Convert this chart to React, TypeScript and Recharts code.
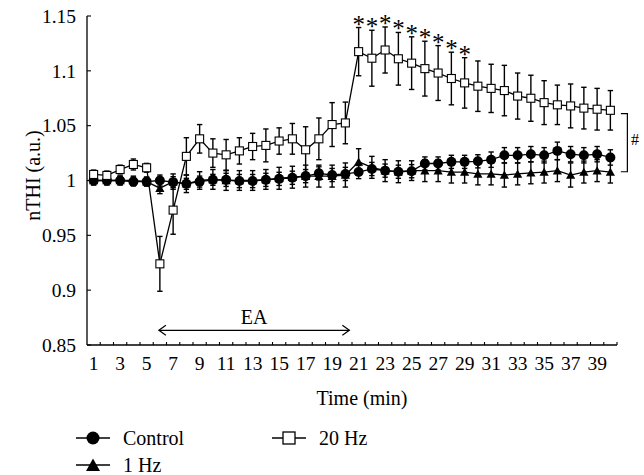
import React from "react";
import {
  ComposedChart,
  Line,
  XAxis,
  YAxis,
  ErrorBar,
  ReferenceLine,
  Legend,
} from "recharts";

const FONT = '"Liberation Serif", "Times New Roman", serif';

const minutes = [
  "1", "2", "3", "4", "5", "6", "7", "8", "9", "10",
  "11", "12", "13", "14", "15", "16", "17", "18", "19", "20",
  "21", "22", "23", "24", "25", "26", "27", "28", "29", "30",
  "31", "32", "33", "34", "35", "36", "37", "38", "39", "40",
];

const control = [
  1.0, 1.0, 1.0, 0.999, 0.999, 1.0, 0.9985, 0.997, 0.999, 1.0006,
  1.0006, 0.9995, 0.9995, 1.0006, 1.0015, 1.0025, 1.004, 1.0065, 1.005, 1.006,
  1.0077, 1.0105, 1.009, 1.008, 1.0085, 1.0155, 1.0155, 1.017, 1.017, 1.0175,
  1.019, 1.023, 1.023, 1.024, 1.023, 1.027, 1.024, 1.023, 1.024, 1.021,
];
const controlErr = [
  0.004, 0.004, 0.004, 0.004, 0.004, 0.005, 0.005, 0.005, 0.005, 0.005,
  0.006, 0.006, 0.006, 0.006, 0.006, 0.006, 0.006, 0.006, 0.006, 0.006,
  0.006, 0.006, 0.006, 0.006, 0.006, 0.006, 0.006, 0.006, 0.006, 0.006,
  0.007, 0.007, 0.007, 0.007, 0.007, 0.008, 0.007, 0.007, 0.007, 0.007,
];

const hz1 = [
  1.0, 1.0, 1.0, 1.0, 0.999, 0.993, 0.999, 0.997, 1.0, 1.001,
  1.0, 1.0, 1.0, 1.001, 1.002, 1.003, 1.004, 1.004, 1.004, 1.005,
  1.017, 1.012, 1.009, 1.008, 1.009, 1.009, 1.009, 1.0077, 1.0077, 1.006,
  1.006, 1.005, 1.006, 1.007, 1.0077, 1.009, 1.005, 1.0077, 1.009, 1.0077,
];
const hz1Err = [
  0.004, 0.004, 0.004, 0.004, 0.004, 0.005, 0.007, 0.008, 0.008, 0.009,
  0.009, 0.009, 0.009, 0.009, 0.01, 0.01, 0.01, 0.01, 0.01, 0.011,
  0.012, 0.01, 0.01, 0.01, 0.009, 0.01, 0.01, 0.01, 0.01, 0.01,
  0.01, 0.011, 0.01, 0.01, 0.01, 0.01, 0.011, 0.01, 0.01, 0.01,
];

const hz20 = [
  1.0055, 1.0046, 1.01, 1.0146, 1.0116, 0.924, 0.973, 1.022, 1.038, 1.025,
  1.0234, 1.027, 1.031, 1.032, 1.036, 1.038, 1.028, 1.038, 1.051, 1.0525,
  1.1175, 1.1115, 1.119, 1.111, 1.107, 1.102, 1.098, 1.093, 1.089, 1.086,
  1.084, 1.082, 1.077, 1.075, 1.071, 1.069, 1.068, 1.066, 1.065, 1.064,
];
const hz20Err = [
  0.004, 0.004, 0.004, 0.005, 0.004, 0.025, 0.022, 0.017, 0.013, 0.013,
  0.014, 0.012, 0.012, 0.015, 0.012, 0.014, 0.021, 0.019, 0.02, 0.019,
  0.022, 0.0255, 0.021, 0.024, 0.024, 0.025, 0.025, 0.024, 0.023, 0.023,
  0.022, 0.023, 0.021, 0.021, 0.02, 0.018, 0.02, 0.019, 0.019, 0.018,
];

// minutes where 20 Hz differs from control (*)
const significant = ["21", "22", "23", "24", "25", "26", "27", "28", "29"];

const yTicks = [0.85, 0.9, 0.95, 1, 1.05, 1.1, 1.15];
const seriesNames = ["Control", "1 Hz", "20 Hz"];

const eaRange = ["6", "20"];
const eaLevel = 0.8634;
const bracketRange = [1.061, 1.008];

const data = minutes.map((m, i) => ({
  minute: m,
  control: control[i],
  controlErr: controlErr[i],
  hz1: hz1[i],
  hz1Err: hz1Err[i],
  hz20: hz20[i],
  hz20Err: hz20Err[i],
  star: significant.includes(m) ? hz20[i] + hz20Err[i] : null,
}));

const CircleDot = (p: any) => (
  <circle key={`c${p.index}`} cx={p.cx} cy={p.cy} r={5} fill="#000" />
);

const TriangleDot = (p: any) => (
  <path
    key={`t${p.index}`}
    d={`M${p.cx},${p.cy - 4.4} L${p.cx + 4.6},${p.cy + 3.8} L${p.cx - 4.6},${p.cy + 3.8} Z`}
    fill="#000"
  />
);

const SquareDot = (p: any) => (
  <rect
    key={`s${p.index}`}
    x={p.cx - 4}
    y={p.cy - 4}
    width={8}
    height={8}
    fill="#fff"
    stroke="#000"
    strokeWidth={1.1}
  />
);

const XTick = (p: any) => {
  const { x, y, payload } = p;
  const half = payload && payload.offset ? payload.offset : 6.6;
  const n = Number(payload.value);
  return (
    <g>
      <line x1={x + half} x2={x + half} y1={y} y2={y - 3} stroke="#000" strokeWidth={1.1} />
      {n % 2 === 1 && (
        <text x={x} y={y + 25} textAnchor="middle" fontSize={19.5} fontFamily={FONT} fill="#000">
          {payload.value}
        </text>
      )}
    </g>
  );
};

const YTick = (p: any) => {
  const { x, y, payload } = p;
  return (
    <g>
      <line x1={x} x2={x + 4} y1={y} y2={y} stroke="#000" strokeWidth={1.1} />
      <text x={x - 11} y={y} dy="0.35em" textAnchor="end" fontSize={19.5} fontFamily={FONT} fill="#000">
        {payload.value}
      </text>
    </g>
  );
};

const StarLabel = (p: any) => {
  if (p.value == null || p.y == null) return <g key={`st${p.index}`} />;
  return (
    <text key={`st${p.index}`} x={p.x} y={p.y + 5} textAnchor="middle" fontSize={25} fontFamily={FONT} fill="#000">
      *
    </text>
  );
};

const EaArrow = (p: any) => {
  const a = p.x1 - 1;
  const b = p.x2 + 4;
  const y = p.y1;
  return (
    <g>
      <line x1={a} y1={y} x2={b} y2={y} stroke="#000" strokeWidth={1.2} />
      <polyline points={`${a + 7},${y - 5} ${a},${y} ${a + 7},${y + 5}`} fill="none" stroke="#000" strokeWidth={1.2} />
      <polyline points={`${b - 7},${y - 5} ${b},${y} ${b - 7},${y + 5}`} fill="none" stroke="#000" strokeWidth={1.2} />
      <text x={(a + b) / 2} y={y - 6} textAnchor="middle" fontSize={20} fontFamily={FONT} fill="#000">
        EA
      </text>
    </g>
  );
};

const Bracket = (p: any) => {
  const x = p.x1 + 17;
  return (
    <g>
      <path d={`M${x - 6.5},${p.y1} H${x} V${p.y2} H${x - 6.5}`} fill="none" stroke="#000" strokeWidth={1.2} />
      <text x={x + 3.5} y={(p.y1 + p.y2) / 2 - 3} dy="0.35em" fontSize={16} fontFamily={FONT} fill="#000">
        #
      </text>
    </g>
  );
};

const LegendIcon = ({ kind }: { kind: string }) => (
  <svg width={36} height={20} style={{ position: "absolute", top: 2, left: 0 }}>
    <line x1={0} x2={34} y1={10} y2={10} stroke="#000" strokeWidth={1.3} />
    {kind === "circle" && <circle cx={17} cy={10} r={6.5} fill="#000" />}
    {kind === "triangle" && <path d="M17,3.5 L24,16 L10,16 Z" fill="#000" />}
    {kind === "square" && <rect x={11} y={4} width={12} height={12} fill="#fff" stroke="#000" strokeWidth={1.3} />}
  </svg>
);

const LegendItem = ({ left, top, kind, name }: any) => (
  <div style={{ position: "absolute", left, top, height: 24, width: 160 }}>
    <LegendIcon kind={kind} />
    <span style={{ position: "absolute", left: 47, top: 0, lineHeight: "24px", whiteSpace: "nowrap" }}>{name}</span>
  </div>
);

const LegendContent = () => (
  <div style={{ position: "relative", width: 400, height: 56, fontFamily: FONT, fontSize: 20, color: "#000" }}>
    <LegendItem left={8} top={0} kind="circle" name={seriesNames[0]} />
    <LegendItem left={204} top={0} kind="square" name={seriesNames[2]} />
    <LegendItem left={8} top={27} kind="triangle" name={seriesNames[1]} />
  </div>
);

export default function App() {
  return (
    <div style={{ position: "absolute", top: 0, left: 8, width: 636, height: 475 }}>
      <ComposedChart
        width={636}
        height={475}
        data={data}
        margin={{ top: 16, right: 27, bottom: 70, left: 0 }}
        style={{ fontFamily: FONT, overflow: "visible" }}
      >
        <XAxis
          dataKey="minute"
          type="category"
          scale="band"
          interval={0}
          tickSize={0}
          tickMargin={0}
          tick={XTick}
          height={60}
          axisLine={{ stroke: "#000", strokeWidth: 1.3 }}
          label={(p: any) => {
            const vb = p.viewBox || { x: 79, y: 345, width: 530 };
            return (
              <text x={vb.x + vb.width / 2 + 10} y={vb.y + 60} textAnchor="middle" fontSize={20} fontFamily={FONT} fill="#000">
                Time (min)
              </text>
            );
          }}
        />
        <YAxis
          type="number"
          domain={[0.85, 1.15]}
          ticks={yTicks}
          interval={0}
          width={79}
          tickSize={0}
          tickMargin={0}
          tick={YTick}
          axisLine={{ stroke: "#000", strokeWidth: 1.3 }}
          allowDataOverflow
          label={(p: any) => {
            const vb = p.viewBox || { x: 0, y: 16, width: 79, height: 329 };
            const cx = vb.x + 25;
            const cy = vb.y + vb.height / 2 - 5;
            return (
              <text
                x={cx}
                y={cy}
                transform={`rotate(-90 ${cx} ${cy})`}
                textAnchor="middle"
                dy="0.35em"
                fontSize={20}
                fontFamily={FONT}
                fill="#000"
              >
                nTHI (a.u.)
              </text>
            );
          }}
        />
        <Legend
          layout="horizontal"
          verticalAlign="middle"
          align="center"
          wrapperStyle={{ top: 426, left: 60, width: 400 }}
          content={LegendContent}
        />
        <ReferenceLine
          segment={[
            { x: eaRange[0], y: eaLevel },
            { x: eaRange[1], y: eaLevel },
          ]}
          ifOverflow="visible"
          shape={EaArrow}
        />
        <ReferenceLine
          segment={[
            { x: minutes[minutes.length - 1], y: bracketRange[0] },
            { x: minutes[minutes.length - 1], y: bracketRange[1] },
          ]}
          ifOverflow="visible"
          shape={Bracket}
        />
        <Line
          dataKey="control"
          name={seriesNames[0]}
          stroke="#000"
          strokeWidth={1.3}
          dot={CircleDot}
          activeDot={false}
          isAnimationActive={false}
        >
          <ErrorBar dataKey="controlErr" width={2.7} stroke="#000" strokeWidth={1.4} isAnimationActive={false} />
        </Line>
        <Line
          dataKey="hz1"
          name={seriesNames[1]}
          stroke="#000"
          strokeWidth={1.3}
          dot={TriangleDot}
          activeDot={false}
          isAnimationActive={false}
        >
          <ErrorBar dataKey="hz1Err" width={2.7} stroke="#000" strokeWidth={1.4} isAnimationActive={false} />
        </Line>
        <Line
          dataKey="hz20"
          name={seriesNames[2]}
          stroke="#000"
          strokeWidth={1.3}
          dot={SquareDot}
          activeDot={false}
          isAnimationActive={false}
        >
          <ErrorBar dataKey="hz20Err" width={2.7} stroke="#000" strokeWidth={1.4} isAnimationActive={false} />
        </Line>
        <Line
          dataKey="star"
          stroke="none"
          dot={false}
          activeDot={false}
          legendType="none"
          isAnimationActive={false}
          label={StarLabel}
        />
      </ComposedChart>
    </div>
  );
}
